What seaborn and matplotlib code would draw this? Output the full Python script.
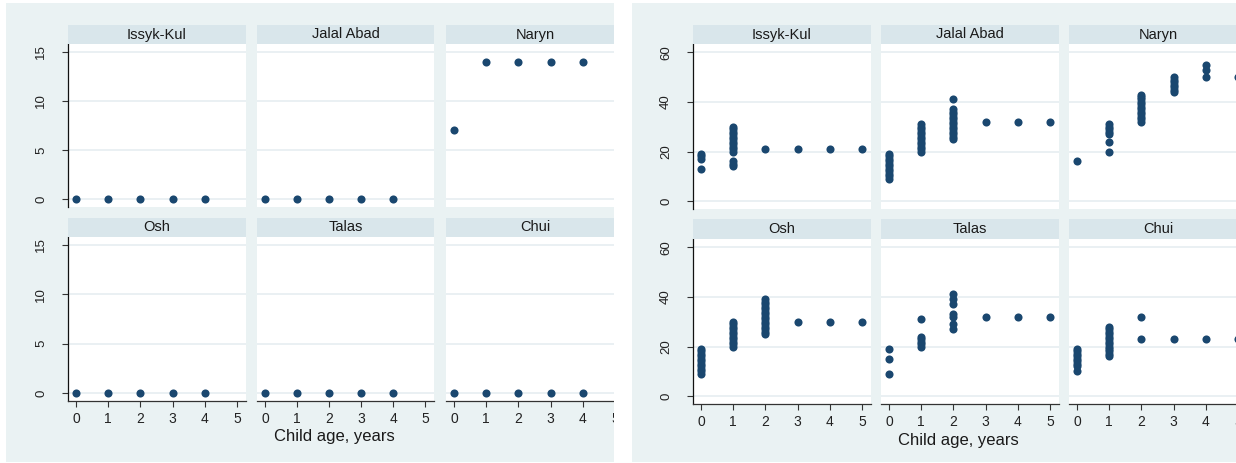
import matplotlib
matplotlib.use("Agg")
import matplotlib.pyplot as plt
from matplotlib.patches import Rectangle
import pandas as pd
import seaborn as sns

# ---- data -------------------------------------------------------------
regions = ["Issyk-Kul", "Jalal Abad", "Naryn", "Osh", "Talas", "Chui"]
ages = [0, 1, 2, 3, 4, 5]
x_ticks = [0, 1, 2, 3, 4, 5]
left_y_ticks = [0, 5, 10, 15]
right_y_ticks = [0, 20, 40, 60]
x_title = "Child age, years"

# left chart: values observed at each age (0..5) per region
left_issyk_kul = [[0], [0], [0], [0], [0], []]
left_jalal_abad = [[0], [0], [0], [0], [0], []]
left_naryn = [[7], [14], [14], [14], [14], []]
left_osh = [[0], [0], [0], [0], [0], []]
left_talas = [[0], [0], [0], [0], [0], []]
left_chui = [[0], [0], [0], [0], [0], []]

# right chart: values observed at each age (0..5) per region
right_issyk_kul = [[19, 18, 17, 13],
                   [30, 29, 28, 27, 26, 25, 24, 23, 22, 21, 20, 16, 15, 14],
                   [21], [21], [21], [21]]
right_jalal_abad = [[19, 18, 17, 16, 15, 14, 13, 12, 11, 10, 9],
                    [31, 30, 29, 28, 27, 26, 25, 24, 23, 22, 21, 20],
                    [41, 37, 36, 35, 34, 33, 32, 31, 30, 29, 28, 27, 26, 25],
                    [32], [32], [32]]
right_naryn = [[16],
               [31, 30, 29, 28, 27, 24, 20],
               [43, 42, 41, 40, 39, 38, 37, 36, 35, 34, 33, 32],
               [50, 49, 48, 47, 46, 45, 44],
               [55, 53, 50],
               [50]]
right_osh = [[19, 18, 17, 16, 15, 14, 13, 12, 11, 10, 9],
             [30, 29, 28, 27, 26, 25, 24, 23, 22, 21, 20],
             [39, 38, 37, 36, 35, 34, 33, 32, 31, 30, 29, 28, 27, 26, 25],
             [30], [30], [30]]
right_talas = [[19, 15, 9],
               [31, 24, 23, 22, 21, 20],
               [41, 39, 37, 33, 32, 29, 27],
               [32], [32], [32]]
right_chui = [[19, 18, 17, 16, 15, 14, 13, 12, 10],
              [28, 27, 26, 25, 24, 23, 22, 21, 20, 19, 18, 17, 16],
              [32, 23],
              [23], [23], [23]]

left_series = [left_issyk_kul, left_jalal_abad, left_naryn,
               left_osh, left_talas, left_chui]
right_series = [right_issyk_kul, right_jalal_abad, right_naryn,
                right_osh, right_talas, right_chui]


def to_frame(series):
    rows = []
    for region, by_age in zip(regions, series):
        for age, vals in zip(ages, by_age):
            for v in vals:
                rows.append({"region": region, "age": age, "value": v})
    return pd.DataFrame(rows)


left_df = to_frame(left_series)
right_df = to_frame(right_series)

# ---- style ------------------------------------------------------------
sns.set_theme(style="white")
plt.rcParams["font.family"] = ["Liberation Sans", "DejaVu Sans"]

NAVY = "#1A476F"
BG = "#EAF2F3"
STRIP = "#D9E6EB"
GRID = "#E6EEF1"
TEXT = "#1A1A1A"

W, H = 1236, 463
fig = plt.figure(figsize=(W / 100, H / 100), dpi=100)
fig.patch.set_facecolor("white")


def fbox(x0, y0, x1, y1):
    return [x0 / W, 1 - y1 / H, (x1 - x0) / W, (y1 - y0) / H]


def add_rect(x0, y0, x1, y1, color, z):
    fig.add_artist(Rectangle((x0 / W, 1 - y1 / H), (x1 - x0) / W, (y1 - y0) / H,
                             transform=fig.transFigure, facecolor=color,
                             edgecolor="none", zorder=z))


def draw_chart(df, cols, plot_rows, strip_rows, yticks, ylim, title_xy):
    for i, region in enumerate(regions):
        r, c = divmod(i, 3)
        x0, x1 = cols[c]
        py0, py1 = plot_rows[r]
        sy0, sy1 = strip_rows[r]
        add_rect(x0, sy0, x1, sy1, STRIP, 1)
        fig.text(((x0 + x1) / 2) / W, 1 - ((sy0 + sy1) / 2) / H, region,
                 ha="center", va="center", fontsize=10.5, color=TEXT, zorder=2)

        ax = fig.add_axes(fbox(x0, py0, x1, py1))
        ax.set_facecolor("white")
        sub = df[df["region"] == region]
        sns.scatterplot(data=sub, x="age", y="value", ax=ax, color=NAVY,
                        s=34, linewidth=0, legend=False, zorder=3)
        ax.set_xlim(-0.25, 5.28)
        ax.set_ylim(*ylim)
        ax.set_xticks(x_ticks)
        ax.set_yticks(yticks)
        ax.set_xlabel("")
        ax.set_ylabel("")
        ax.yaxis.grid(True, color=GRID, linewidth=1.2)
        ax.xaxis.grid(False)
        ax.set_axisbelow(True)
        for s in ax.spines.values():
            s.set_visible(False)

        if c == 0:
            ax.spines["left"].set_visible(True)
            ax.spines["left"].set_color("#111111")
            ax.spines["left"].set_linewidth(0.9)
            ax.tick_params(axis="y", length=4, width=0.8, color="#333333",
                           pad=11, labelsize=9.5, labelcolor="#222222",
                           labelrotation=90, left=True, labelleft=True)
            for lab in ax.get_yticklabels():
                lab.set_va("center")
        else:
            ax.tick_params(axis="y", left=False, labelleft=False)

        if r == 1:
            ax.spines["bottom"].set_visible(True)
            ax.spines["bottom"].set_color("#333333")
            ax.spines["bottom"].set_linewidth(0.9)
            ax.tick_params(axis="x", length=4, width=0.8, color="#333333",
                           pad=4, labelsize=10, labelcolor="#222222",
                           bottom=True, labelbottom=True)
        else:
            ax.tick_params(axis="x", bottom=False, labelbottom=False)

    fig.text(title_xy[0] / W, 1 - title_xy[1] / H, x_title, ha="center",
             va="center", fontsize=12, color=TEXT, zorder=2)


# chart backgrounds
add_rect(6, 3, 614, 462, BG, -1)
add_rect(632, 3, 1236, 462, BG, -1)

draw_chart(left_df,
           cols=[(68, 246), (257, 434), (446, 624)],
           plot_rows=[(44, 207), (237, 401)],
           strip_rows=[(25, 44), (218, 237)],
           yticks=left_y_ticks, ylim=(-0.8, 15.8),
           title_xy=(334, 437))

draw_chart(right_df,
           cols=[(693, 871), (881, 1059), (1069, 1247)],
           plot_rows=[(44, 209), (239, 404)],
           strip_rows=[(25, 44), (219, 239)],
           yticks=right_y_ticks, ylim=(-3.2, 63.4),
           title_xy=(958, 441))

# gap between the two charts
add_rect(614, 0, 632, 463, "white", 10)

fig.savefig("out.png", dpi=100, facecolor="white")
